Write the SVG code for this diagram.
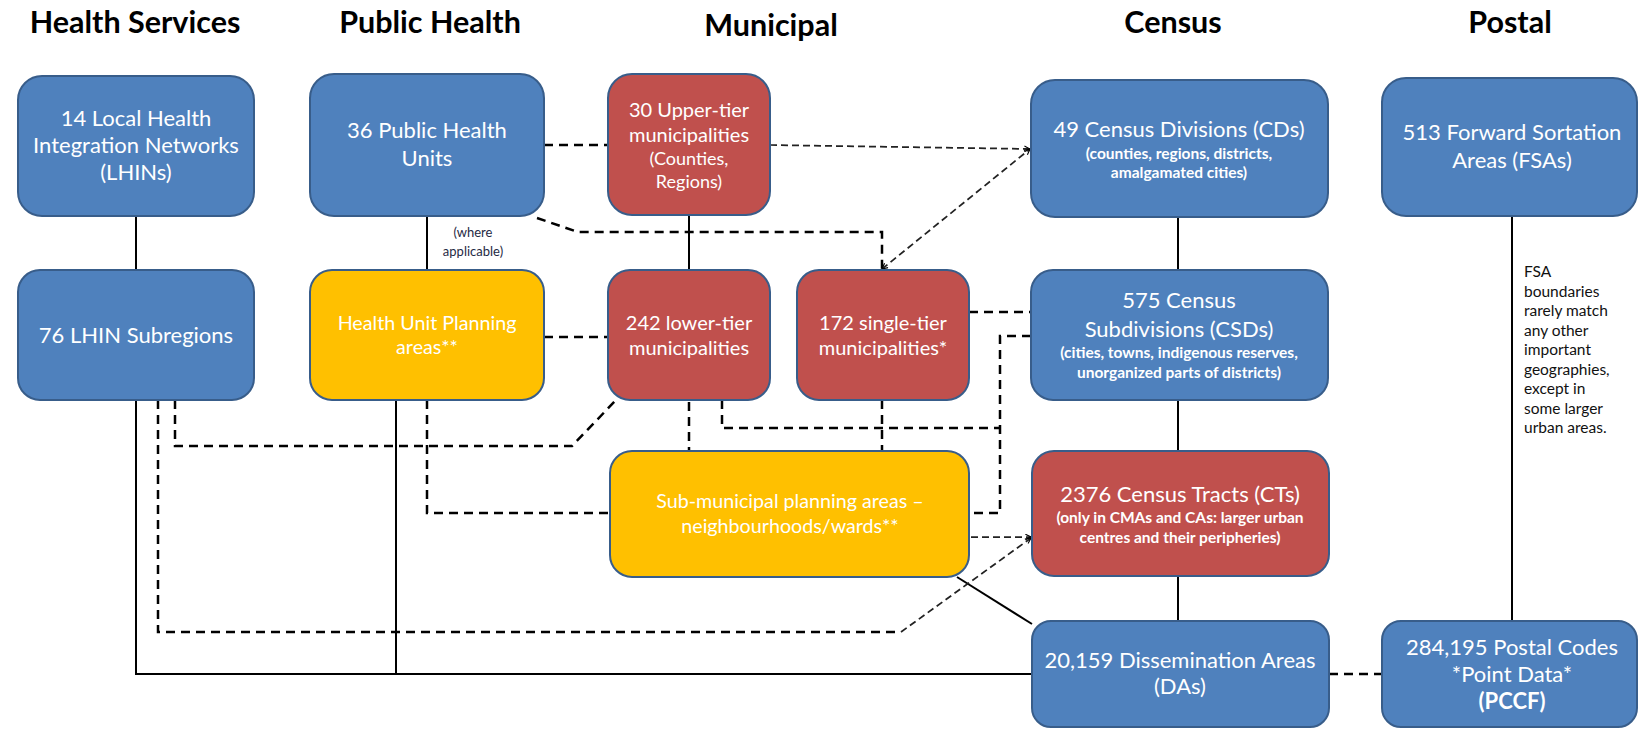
<svg xmlns="http://www.w3.org/2000/svg" width="1639" height="729" viewBox="0 0 1639 729">
  <style>
    .title { font-family: Lato, "Liberation Sans", sans-serif; font-weight: bold; font-size: 30.5px; fill: #000; text-anchor: middle; }
    .box { stroke: #385D8A; stroke-width: 2; }
    .blue { fill: #4F81BD; }
    .red { fill: #C0504D; }
    .gold { fill: #FFC000; }
    .t { font-family: Lato, "Liberation Sans", sans-serif; fill: #fff; text-anchor: middle; font-size: 22px; }
    .m { font-size: 19.7px; }
    .mu { font-size: 20px; }
    .mp { font-size: 18px; }
    .s { font-size: 15.5px; font-weight: bold; }
    .note { font-family: Lato, "Liberation Sans", sans-serif; font-size: 15.5px; fill: #111; }
    .where { font-family: Lato, "Liberation Sans", sans-serif; font-size: 13px; fill: #1F2A44; text-anchor: middle; }
    .solid { fill: none; stroke: #000; stroke-width: 2; }
    .dash { fill: none; stroke: #000; stroke-width: 2.5; stroke-dasharray: 9 6; }
    .thin { fill: none; stroke: #222; stroke-width: 1.75; stroke-dasharray: 7 4; }
  </style>
  <defs>
    <marker id="arrow" viewBox="0 0 10 10" refX="9" refY="5" markerWidth="7" markerHeight="7" markerUnits="userSpaceOnUse" orient="auto-start-reverse">
      <path d="M1,1 L9,5 L1,9" fill="none" stroke="#000" stroke-width="1.6"/>
    </marker>
  </defs>

  <rect width="1639" height="729" fill="#fff"/>

  <!-- column headings -->
  <g id="headings">
    <text class="title" x="135" y="33">Health Services</text>
    <text class="title" x="430" y="33">Public Health</text>
    <text class="title" x="771" y="36">Municipal</text>
    <text class="title" x="1173" y="33">Census</text>
    <text class="title" x="1510" y="33">Postal</text>
  </g>

  <!-- connectors -->
  <g id="connectors">
    <!-- solid hierarchy links -->
    <path class="solid" d="M136,216 V270"/>
    <path class="solid" d="M427,216 V270"/>
    <path class="solid" d="M689,215 V270"/>
    <path class="solid" d="M1178,217 V270"/>
    <path class="solid" d="M1178,400 V451"/>
    <path class="solid" d="M1178,576 V621"/>
    <path class="solid" d="M1512,216 V621"/>
    <path class="solid" d="M136,400 V674 H1032"/>
    <path class="solid" d="M396,400 V674"/>
    <path class="solid" d="M957,577 L1032,624"/>

    <!-- dashed approximate links -->
    <path class="dash" d="M544,145 H608"/>
    <path class="dash" d="M537,218 L578,232 H882 V270"/>
    <path class="dash" d="M544,337 H608"/>
    <path class="dash" d="M427,400 V513 H610"/>
    <path class="dash" d="M175,400 V446 H572 L616,400"/>
    <path class="dash" d="M158,400 V632 H901"/>
    <path class="dash" d="M689,402 V451"/>
    <path class="dash" d="M722,400 V428 H1000"/>
    <path class="dash" d="M882,400 V451"/>
    <path class="dash" d="M969,312 H1031"/>
    <path class="dash" d="M1031,336 H1000 V513 H969"/>
    <path class="dash" d="M1329,674 H1382"/>

    <!-- thin dashed arrows -->
    <path class="thin" d="M770,145 L1030,149" marker-end="url(#arrow)"/>
    <path class="thin" d="M882,269 L1030,149" marker-start="url(#arrow)" marker-end="url(#arrow)"/>
    <path class="thin" d="M971,537 H1031" marker-end="url(#arrow)"/>
    <path class="thin" d="M901,632 L1031,538" marker-end="url(#arrow)"/>
  </g>

  <g id="lhin">
    <rect class="box blue" x="18" y="76" width="236" height="140" rx="24"/>
    <text class="t" x="136" y="126">14 Local Health</text>
    <text class="t" x="136" y="153">Integration Networks</text>
    <text class="t" x="136" y="180">(LHINs)</text>
  </g>

  <g id="lhin-subregions">
    <rect class="box blue" x="18" y="270" width="236" height="130" rx="22"/>
    <text class="t" x="136" y="343">76 LHIN Subregions</text>
  </g>

  <g id="public-health-units">
    <rect class="box blue" x="310" y="74" width="234" height="142" rx="24"/>
    <text class="t" x="427" y="138">36 Public Health</text>
    <text class="t" x="427" y="166">Units</text>
  </g>

  <g id="where-applicable">
    <text class="where" x="473" y="237">(where</text>
    <text class="where" x="473" y="256">applicable)</text>
  </g>

  <g id="health-unit-planning">
    <rect class="box gold" x="310" y="270" width="234" height="130" rx="22"/>
    <text class="t m" x="427" y="330">Health Unit Planning</text>
    <text class="t m" x="427" y="354">areas**</text>
  </g>

  <g id="upper-tier">
    <rect class="box red" x="608" y="74" width="162" height="141" rx="24"/>
    <text class="t mu" x="689" y="117">30 Upper-tier</text>
    <text class="t mu" x="689" y="142">municipalities</text>
    <text class="t mp" x="689" y="165">(Counties,</text>
    <text class="t mp" x="689" y="188">Regions)</text>
  </g>

  <g id="lower-tier">
    <rect class="box red" x="608" y="270" width="162" height="130" rx="22"/>
    <text class="t mu" x="689" y="330">242 lower-tier</text>
    <text class="t mu" x="689" y="355">municipalities</text>
  </g>

  <g id="single-tier">
    <rect class="box red" x="797" y="270" width="172" height="130" rx="22"/>
    <text class="t mu" x="883" y="330">172 single-tier</text>
    <text class="t mu" x="883" y="355">municipalities*</text>
  </g>

  <g id="sub-municipal">
    <rect class="box gold" x="610" y="451" width="359" height="126" rx="22"/>
    <text class="t m" x="790" y="508">Sub-municipal planning areas –</text>
    <text class="t m" x="790" y="533">neighbourhoods/wards**</text>
  </g>

  <g id="census-divisions">
    <rect class="box blue" x="1031" y="80" width="297" height="137" rx="24"/>
    <text class="t" x="1179" y="137">49 Census Divisions (CDs)</text>
    <text class="t s" x="1179" y="159">(counties, regions, districts,</text>
    <text class="t s" x="1179" y="178">amalgamated cities)</text>
  </g>

  <g id="census-subdivisions">
    <rect class="box blue" x="1031" y="270" width="297" height="130" rx="22"/>
    <text class="t" x="1179" y="308">575 Census</text>
    <text class="t" x="1179" y="337">Subdivisions (CSDs)</text>
    <text class="t s" x="1179" y="358">(cities, towns, indigenous reserves,</text>
    <text class="t s" x="1179" y="378">unorganized parts of districts)</text>
  </g>

  <g id="census-tracts">
    <rect class="box red" x="1032" y="451" width="297" height="125" rx="22"/>
    <text class="t" x="1180" y="502">2376 Census Tracts (CTs)</text>
    <text class="t s" x="1180" y="523">(only in CMAs and CAs: larger urban</text>
    <text class="t s" x="1180" y="543">centres and their peripheries)</text>
  </g>

  <g id="dissemination-areas">
    <rect class="box blue" x="1032" y="621" width="297" height="106" rx="19"/>
    <text class="t" x="1180" y="668">20,159 Dissemination Areas</text>
    <text class="t" x="1180" y="694">(DAs)</text>
  </g>

  <g id="fsa">
    <rect class="box blue" x="1382" y="78" width="255" height="138" rx="24"/>
    <text class="t" x="1512" y="140">513 Forward Sortation</text>
    <text class="t" x="1512" y="168">Areas (FSAs)</text>
  </g>

  <g id="fsa-note">
    <text class="note" x="1524" y="277">FSA</text>
    <text class="note" x="1524" y="297">boundaries</text>
    <text class="note" x="1524" y="316">rarely match</text>
    <text class="note" x="1524" y="336">any other</text>
    <text class="note" x="1524" y="355">important</text>
    <text class="note" x="1524" y="375">geographies,</text>
    <text class="note" x="1524" y="394">except in</text>
    <text class="note" x="1524" y="414">some larger</text>
    <text class="note" x="1524" y="433">urban areas.</text>
  </g>

  <g id="postal-codes">
    <rect class="box blue" x="1382" y="621" width="255" height="106" rx="19"/>
    <text class="t" x="1512" y="655">284,195 Postal Codes</text>
    <text class="t" x="1512" y="682">*Point Data*</text>
    <text class="t" x="1512" y="709" style="font-weight:bold">(PCCF)</text>
  </g>
</svg>
